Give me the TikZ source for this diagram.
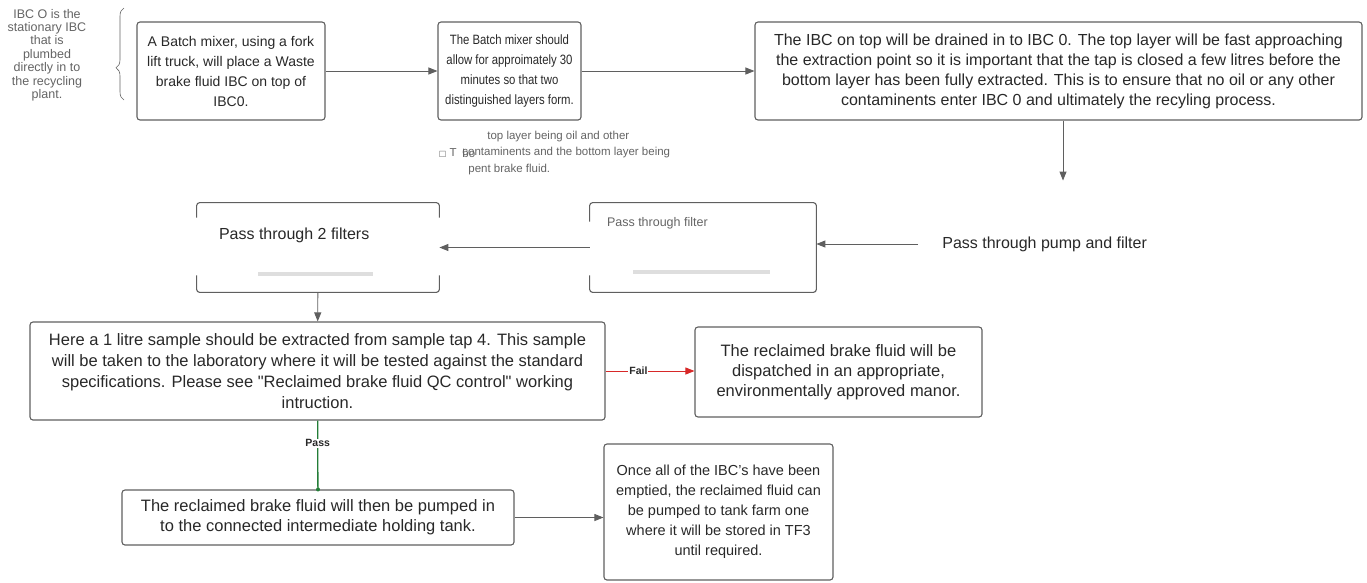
\documentclass[tikz,border=0pt]{standalone}
\usepackage{fontspec}
\setmainfont{Liberation Sans}
\newfontfamily\narrowfont[FakeStretch=0.84]{Liberation Sans}
\newfontfamily\symfont{DejaVu Sans}
\usetikzlibrary{arrows.meta,calc,positioning,decorations.pathreplacing}

\definecolor{boxgray}{RGB}{95,95,95}
\definecolor{txtgray}{RGB}{40,40,40}
\definecolor{notegray}{RGB}{100,100,100}
\definecolor{failred}{RGB}{215,40,40}
\definecolor{passgreen}{RGB}{35,125,55}
\definecolor{bargray}{RGB}{222,222,222}

\tikzset{
	stepbox/.style={draw=boxgray, rounded corners=3pt, line width=1.1pt, align=center, text=txtgray, inner sep=0pt, font=\fontsize{14}{20}\selectfont},
	openbox/.style={draw=none, inner sep=0pt},
	openline/.style={draw=boxgray, rounded corners=3pt, line width=1.1pt},
	flow/.style={draw=boxgray, line width=0.9pt, -{Triangle[length=9pt,width=7pt]}},
	sidenote/.style={align=center, text=notegray, font=\fontsize{12.5}{13.4}\selectfont},
	layernote/.style={anchor=west, text=notegray, inner sep=0pt, font=\fontsize{11.5}{16}\selectfont},
	notebrace/.style={draw=notegray, line width=0.6pt, decorate, decoration={brace, amplitude=8pt, aspect=0.35}},
	edgelabel/.style={fill=white, inner sep=1pt, text=txtgray, font=\bfseries\fontsize{10.5}{12}\selectfont}
}
\tikzset{every picture/.style={line width=0.75pt}}

\begin{document}
\begin{tikzpicture}[x=1pt,y=1pt,yscale=-1]
	\useasboundingbox (0,0) rectangle (1367,582);

	% Side note and brace
	\node[sidenote] (ibcnote) at (47,55) {IBC O is the\\stationary IBC\\that is\\plumbed\\directly in to\\the recycling\\plant.};
	\draw[notebrace] (124,100) -- (124,8);

	% Top row
	\node[stepbox, minimum width=188pt, minimum height=98pt] (mixer) at (231,71) {A Batch mixer, using a fork\\lift truck, will place a Waste\\brake fluid IBC on top of\\IBC0.};
	\node[stepbox, minimum width=143pt, minimum height=98pt, font=\narrowfont\fontsize{13.5}{20}\selectfont] (settle) at (509.5,71) {The Batch mixer should\\allow for approimately 30\\minutes so that two\\distinguished layers form.};
	\node[stepbox, minimum width=607pt, minimum height=98pt, font=\fontsize{16}{20}\selectfont] (drain) at (1058.5,71) {The IBC on top will be drained in to IBC 0. The top layer will be fast approaching\\the extraction point so it is important that the tap is closed a few litres before the\\bottom layer has been fully extracted. This is to ensure that no oil or any other\\contaminents enter IBC 0 and ultimately the recyling process.};
	\coordinate (drainend) at ($(drain.south)+(4.5,60)$);

	% Note under the settling box
	\node[layernote] (layer1) at (487,137) {top layer being oil and other};
	\node[layernote] (layer2) at (462,153) {contaminents and the bottom layer being};
	\node[layernote] (layerbo) at (462,153) {bo};
	\node[layernote, anchor=east] (layerT) at (457,153) {{\symfont\fontsize{8}{10}\selectfont □}\ T};
	\node[layernote] (layer3) at (468,170) {pent brake fluid.};

	% Filter boxes
	\node[openbox, minimum width=226pt, minimum height=89pt] (filter) at (703,247.5) {};
	\draw[openline] ($(filter.north west)+(0,19)$) -- (filter.north west) -- (filter.north east) -- (filter.south east) -- (filter.south west) -- ($(filter.south west)+(0,-17)$);
	\fill[bargray] ($(filter.south)+(-70,-22)$) rectangle ($(filter.south)+(67,-18)$);
	\node[anchor=west, text=notegray, inner sep=0pt, font=\fontsize{12.5}{15}\selectfont] (filtertxt) at ($(filter.north west)+(17,21)$) {Pass through filter};

	\node[openbox, minimum width=242pt, minimum height=89pt] (filters) at (318,247.5) {};
	\draw[openline] ($(filters.north west)+(0,15)$) -- (filters.north west) -- (filters.north east) -- ($(filters.north east)+(0,15)$);
	\draw[openline] ($(filters.south west)+(0,-17)$) -- (filters.south west) -- (filters.south east) -- ($(filters.south east)+(0,-17)$);
	\fill[bargray] ($(filters.south)+(-60,-20)$) rectangle ($(filters.south)+(55,-16)$);
	\node[anchor=west, text=txtgray, inner sep=0pt, font=\fontsize{16}{19}\selectfont] (filterstxt) at ($(filters.north west)+(22,33)$) {Pass through 2 filters};

	\node[anchor=west, text=txtgray, inner xsep=24pt, inner ysep=0pt, font=\fontsize{16}{19}\selectfont] (pump) at (918,244) {Pass through pump and filter};

	% Sample and outcomes
	\node[stepbox, minimum width=575pt, minimum height=98pt, font=\fontsize{16.5}{21}\selectfont] (sample) at (317.5,371) {Here a 1 litre sample should be extracted from sample tap 4. This sample\\will be taken to the laboratory where it will be tested against the standard\\specifications. Please see \textquotedbl Reclaimed brake fluid QC control\textquotedbl{} working\\intruction.};
	\node[stepbox, minimum width=287pt, minimum height=90pt, font=\fontsize{16.5}{20}\selectfont] (dispatch) at (838.5,372) {The reclaimed brake fluid will be\\dispatched in an appropriate,\\environmentally approved manor.};
	\node[stepbox, minimum width=392pt, minimum height=55pt, font=\fontsize{16.5}{20}\selectfont] (holding) at (318,517.5) {The reclaimed brake fluid will then be pumped in\\to the connected intermediate holding tank.};
	\node[stepbox, minimum width=229pt, minimum height=136pt, font=\fontsize{14.5}{20}\selectfont] (tankfarm) at (718.5,512) {Once all of the IBC's have been\\emptied, the reclaimed fluid can\\be pumped to tank farm one\\where it will be stored in TF3\\until required.};

	% Connectors
	\draw[flow] (mixer) -- (settle);
	\draw[flow] (settle) -- (drain);
	\draw[flow] (drain.south -| drainend) -- (drainend);
	\draw[flow] (pump.west) -- (pump.west -| filter.east);
	\draw[flow] (filter) -- (filters);
	\draw[flow] (filters) -- (sample);
	\draw[flow, draw=failred, -{Triangle[length=9pt,width=7pt]}] (sample.east) -- node[edgelabel, pos=0.37] {Fail} (dispatch.west |- sample.east);
	\draw[passgreen, line width=1.3pt] (sample) -- node[edgelabel, pos=0.33] {Pass} (holding);
	\fill[passgreen] (holding.north) circle (2pt);
	\draw[flow] (holding.east) -- (holding.east -| tankfarm.west);

\end{tikzpicture}
\end{document}
